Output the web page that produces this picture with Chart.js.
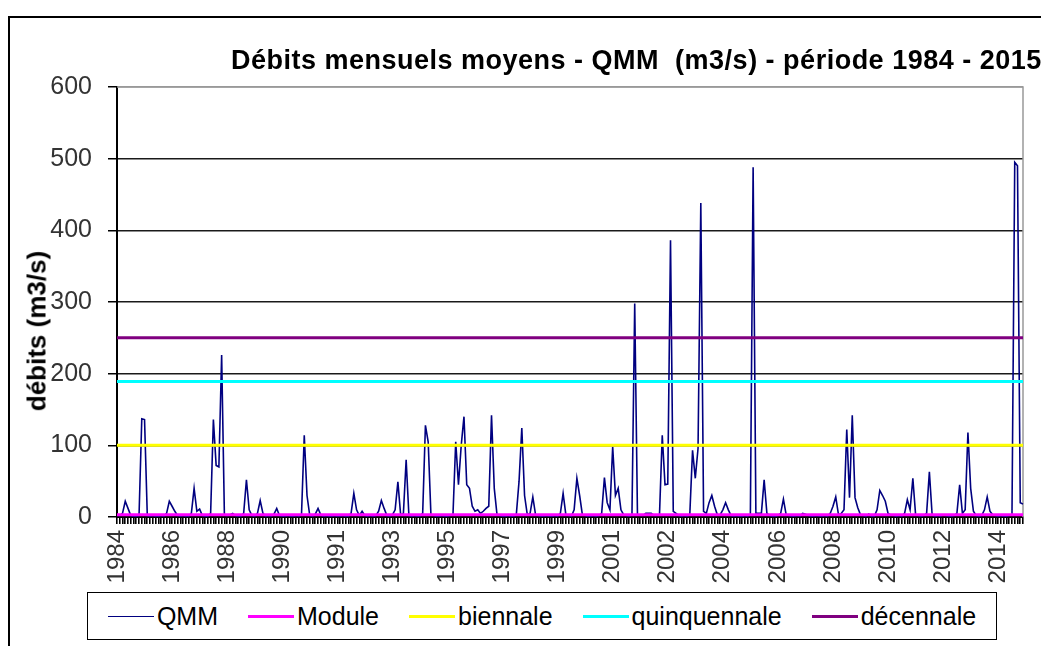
<!DOCTYPE html>
<html>
<head>
<meta charset="utf-8">
<script src="https://cdn.jsdelivr.net/npm/chart.js@4"></script>
<style>
  html, body { margin: 0; padding: 0; background: #fff; overflow: hidden; }
  body { width: 1041px; height: 646px; position: relative; font-family: "Liberation Sans", Arial, sans-serif; }
  #frame { position: absolute; left: 8px; top: 16px; width: 1100px; height: 700px; border-left: 2px solid #000; border-top: 2px solid #000; }
  #wrap { position: absolute; left: 0; top: 0; width: 1041px; height: 646px; }
  #title { position: absolute; left: 231px; top: 45px; font-weight: bold; font-size: 27px; letter-spacing: 0.5px; white-space: pre; color: #000; }
  #ytitle { position: absolute; left: 37px; top: 331px; transform: translate(-50%, -50%) rotate(-90deg);
            font-weight: bold; font-size: 26px; white-space: nowrap; color: #000; }
  #legend { position: absolute; left: 87px; top: 592px; width: 908px; height: 46px; border: 1.5px solid #000;
            display: flex; align-items: center; justify-content: center; gap: 30px; background: #fff; }
  .item { display: flex; align-items: center; font-size: 25px; color: #000; }
  .swatch { display: inline-block; width: 46px; margin-right: 3px; }
</style>
</head>
<body>
<div id="frame"></div>
<div id="wrap"><canvas id="qmmChart"></canvas></div>
<div id="title">Débits mensuels moyens - QMM  (m3/s) - période 1984 - 2015</div>
<div id="ytitle">débits (m3/s)</div>
<div id="legend"></div>
<script>
// étiquettes des années (une tous les 20 mois)
const yearTicks = ['1984', '1986', '1988', '1990', '1991', '1993', '1995', '1997', '1999',
  '2001', '2002', '2004', '2006', '2008', '2010', '2012', '2014'];
const labelStep = 20;

// débits mensuels moyens QMM (m3/s)
const qmm = [
  2, 2, 5, 22, 12, 2, 1, 1, 2, 137,
  136, 2, 1, 2, 1, 1, 2, 1, 5, 22,
  15, 8, 2, 1, 2, 1, 1, 5, 40, 8,
  11, 2, 1, 1, 5, 136, 72, 70, 226, 3,
  2, 3, 5, 2, 1, 1, 5, 52, 10, 2,
  1, 5, 23, 5, 1, 2, 1, 4, 12, 2,
  1, 1, 2, 1, 1, 2, 1, 3, 114, 30,
  2, 1, 4, 12, 3, 1, 2, 1, 1, 2,
  1, 1, 2, 1, 1, 5, 33, 10, 2, 8,
  2, 1, 2, 1, 2, 8, 23, 12, 2, 1,
  3, 10, 49, 3, 5, 80, 2, 1, 2, 1,
  1, 5, 128, 105, 3, 2, 1, 1, 2, 1,
  1, 2, 3, 105, 45, 100, 140, 45, 40, 15,
  8, 10, 5, 8, 12, 15, 142, 40, 3, 2,
  1, 1, 2, 1, 1, 3, 50, 124, 30, 3,
  5, 28, 3, 2, 1, 1, 2, 1, 1, 2,
  1, 5, 33, 3, 2, 1, 10, 54, 30, 3,
  2, 1, 1, 2, 1, 2, 5, 55, 20, 10,
  98, 30, 40, 10, 3, 2, 1, 3, 298, 3,
  2, 2, 5, 5, 5, 2, 2, 3, 114, 45,
  46, 386, 8, 5, 2, 1, 2, 1, 3, 93,
  54, 96, 438, 8, 5, 20, 30, 15, 3, 3,
  10, 20, 10, 2, 1, 2, 1, 1, 2, 1,
  3, 488, 5, 5, 5, 52, 5, 2, 1, 1,
  2, 5, 25, 3, 2, 1, 1, 2, 1, 5,
  4, 2, 1, 1, 2, 1, 1, 2, 1, 5,
  15, 28, 3, 5, 10, 122, 27, 142, 27, 13,
  3, 2, 1, 4, 1, 1, 10, 37, 30, 22,
  5, 3, 2, 1, 2, 1, 5, 24, 10, 54,
  3, 2, 1, 2, 5, 63, 3, 1, 2, 1,
  3, 2, 1, 1, 2, 5, 45, 5, 10, 118,
  40, 8, 2, 1, 2, 10, 28, 8, 3, 2,
  1, 2, 1, 1, 2, 3, 495, 490, 20, 18
];

// débits de référence (m3/s)
const refNames = ['Module', 'biennale', 'quinquennale', 'décennale'];
const refValues = [3, 100, 189, 250];
const refColors = ['#FF00FF', '#FFFF00', '#00FFFF', '#800080'];

// une catégorie par mois mesuré
const categories = qmm.map((v, i) => yearTicks[Math.floor(i / labelStep)]);

// bord gris du cadre de tracé (haut et droite)
const plotBorder = {
  id: 'plotBorder',
  beforeDatasetsDraw(chart) {
    const { ctx, chartArea: a } = chart;
    ctx.save();
    ctx.strokeStyle = '#999';
    ctx.lineWidth = 1.5;
    ctx.beginPath();
    ctx.moveTo(a.left, a.top);
    ctx.lineTo(a.right, a.top);
    ctx.lineTo(a.right, a.bottom);
    ctx.stroke();
    ctx.restore();
  }
};

Chart.defaults.font.family = '"Liberation Sans", Arial, sans-serif';

const datasets = [{
  label: 'QMM',
  data: qmm,
  borderColor: '#000080',
  borderWidth: 1.6,
  pointRadius: 0,
  tension: 0,
  order: 10
}];
refNames.forEach((name, k) => {
  datasets.push({
    label: name,
    data: categories.map(() => refValues[k]),
    borderColor: refColors[k],
    borderWidth: 3,
    pointRadius: 0,
    order: 5 - k
  });
});

const chart = new Chart(document.getElementById('qmmChart'), {
  type: 'line',
  data: { labels: categories, datasets: datasets },
  options: {
    responsive: true,
    maintainAspectRatio: false,
    animation: false,
    layout: { padding: { left: 8, right: 18, top: 87, bottom: 59 } },
    plugins: {
      legend: { display: false },
      tooltip: { enabled: false }
    },
    scales: {
      x: {
        offset: false,
        border: { color: '#000', width: 2 },
        grid: { drawOnChartArea: false, drawTicks: true, tickLength: 7, color: '#000', lineWidth: 1.6 },
        ticks: {
          autoSkip: false,
          minRotation: 90,
          maxRotation: 90,
          padding: 6,
          color: '#333',
          font: { size: 24 },
          callback: (v, i) => (i % labelStep === 0 ? yearTicks[i / labelStep] : '')
        },
        afterFit: (scale) => {
          scale.height = 70;
          scale.paddingLeft = 0;
          scale.paddingRight = 0;
        }
      },
      y: {
        min: 0,
        max: 600,
        border: { color: '#000', width: 2 },
        grid: {
          color: (c) => (c.tick && c.tick.value === 600 ? '#999' : '#1a1a1a'),
          tickColor: '#000',
          lineWidth: 1.5,
          tickLength: 9
        },
        ticks: { stepSize: 100, padding: 16, color: '#333', font: { size: 25 } },
        afterFit: (scale) => { scale.width = 109; }
      }
    }
  },
  plugins: [plotBorder]
});

// légende
const legend = document.getElementById('legend');
chart.data.datasets.forEach(ds => {
  const item = document.createElement('div');
  item.className = 'item';
  const sw = document.createElement('span');
  sw.className = 'swatch';
  sw.style.borderTop = ds.borderWidth + 'px solid ' + ds.borderColor;
  item.appendChild(sw);
  item.appendChild(document.createTextNode(ds.label));
  legend.appendChild(item);
});
</script>
</body>
</html>
